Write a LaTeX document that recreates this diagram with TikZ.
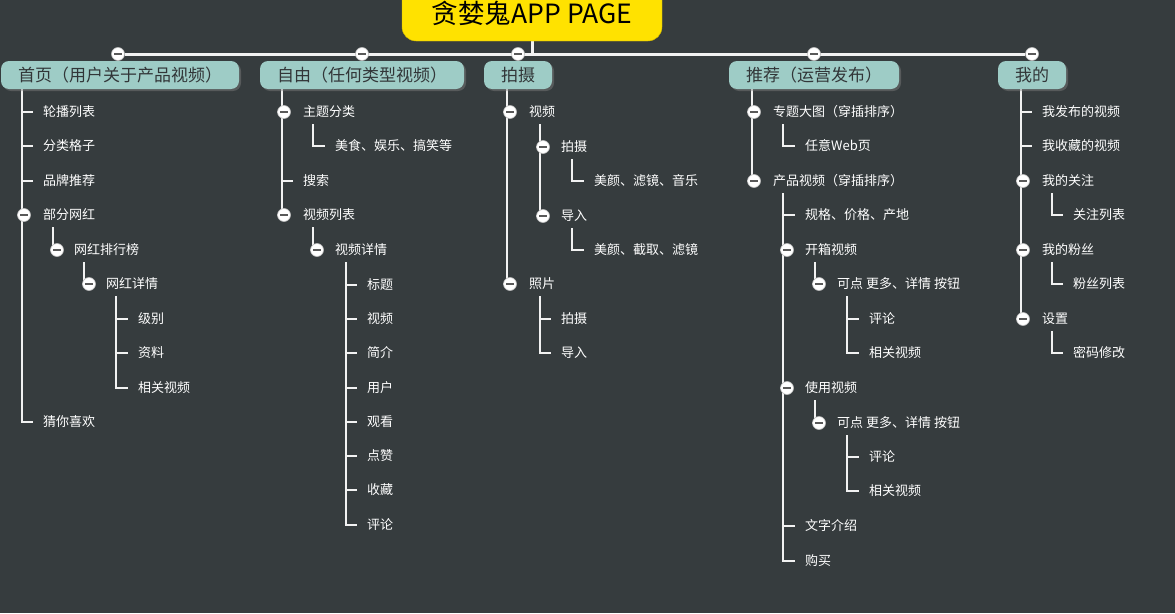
\documentclass[tikz,border=0pt]{standalone}
\usepackage{fontspec}
\setmainfont{Noto Sans CJK SC}
\usepackage{tikz}
\usetikzlibrary{positioning}
\usetikzlibrary{shadows}
\definecolor{bgc}{RGB}{54,60,62}
\definecolor{rootc}{RGB}{255,226,0}
\definecolor{tabc}{RGB}{158,204,198}
\definecolor{tabtext}{RGB}{50,54,56}
\definecolor{linec}{RGB}{242,242,242}
\pgfdeclarelayer{back}
\pgfdeclarelayer{lines}
\pgfsetlayers{back,lines,main}
\tikzset{
    root/.style={fill=rootc, draw=rootc!80!black, rounded corners=14pt, minimum width=260pt, minimum height=56pt, font=\fontsize{26.5}{29}\selectfont, text=black}, % 根节点
    tab/.style={fill=tabc, rounded corners=8pt, minimum height=28pt, inner xsep=17pt, inner ysep=0pt, text=tabtext, font=\fontsize{17}{19}\selectfont, drop shadow={opacity=0.45, shadow xshift=2pt, shadow yshift=-2pt}}, % 一级页面
    item/.style={anchor=west, inner sep=0pt, text=white, font=\fontsize{13}{15}\selectfont}, % 条目文字
    fold/.style={circle, fill=white, draw=gray!50, line width=0.6pt, minimum size=13pt, inner sep=0pt,
        path picture={\fill[gray!70!black] ([xshift=-4pt,yshift=-1.2pt]path picture bounding box.center) rectangle ([xshift=4pt,yshift=1.2pt]path picture bounding box.center);}}, % 折叠按钮
    link/.style={draw=linec, line width=1.8pt},
    mainlink/.style={draw=linec, line width=3pt}
}

\begin{document}
\begin{tikzpicture}[x=1pt, y=-1pt]

    \useasboundingbox (0,0) rectangle (1175,613);
    \begin{pgfonlayer}{back}
        \fill[bgc] (0,0) rectangle (1175,613);
    \end{pgfonlayer}

    \node[root] (root) at (532,13) {贪婪鬼APP PAGE};

    \node[tab] (tabA) at (120,75) {首页（用户关于产品视频）};
    \node[tab] (tabB) at (362,75) {自由（任何类型视频）};
    \node[tab] (tabC) at (518,75) {拍摄};
    \node[tab] (tabD) at (814,75) {推荐（运营发布）};
    \node[tab] (tabE) at (1032,75) {我的};

    \node[fold] (fA) at (118,54) {};
    \node[fold] (fB) at (362,54) {};
    \node[fold] (fC) at (518,54) {};
    \node[fold] (fD) at (814,54) {};
    \node[fold] (fE) at (1032,54) {};

    % 首页
    \node[item] (a1) at (43,112) {轮播列表};
    \node[item] (a2) at (43,146) {分类格子};
    \node[item] (a3) at (43,181) {品牌推荐};
    \node[item] (a4) at (43,215) {部分网红};
    \node[fold] (fa4) at (24,215) {};
    \node[item] (a41) at (74,250) {网红排行榜};
    \node[fold] (fa41) at (57,250) {};
    \node[item] (a411) at (106,284) {网红详情};
    \node[fold] (fa411) at (89,284) {};
    \node[item] (a4111) at (138,319) {级别};
    \node[item] (a4112) at (138,353) {资料};
    \node[item] (a4113) at (138,388) {相关视频};
    \node[item] (a5) at (43,422) {猜你喜欢};

    % 自由
    \node[item] (b1) at (303,112) {主题分类};
    \node[fold] (fb1) at (284,112) {};
    \node[item] (b11) at (335,146) {美食、娱乐、搞笑等};
    \node[item] (b2) at (303,181) {搜索};
    \node[item] (b3) at (303,215) {视频列表};
    \node[fold] (fb3) at (284,215) {};
    \node[item] (b31) at (335,250) {视频详情};
    \node[fold] (fb31) at (317,250) {};
    \node[item] (b311) at (367,285) {标题};
    \node[item] (b312) at (367,319) {视频};
    \node[item] (b313) at (367,353) {简介};
    \node[item] (b314) at (367,388) {用户};
    \node[item] (b315) at (367,422) {观看};
    \node[item] (b316) at (367,456) {点赞};
    \node[item] (b317) at (367,490) {收藏};
    \node[item] (b318) at (367,525) {评论};

    % 拍摄
    \node[item] (c1) at (529,112) {视频};
    \node[fold] (fc1) at (510,112) {};
    \node[item] (c11) at (561,147) {拍摄};
    \node[fold] (fc11) at (543,147) {};
    \node[item] (c111) at (594,181) {美颜、滤镜、音乐};
    \node[item] (c12) at (561,216) {导入};
    \node[fold] (fc12) at (543,216) {};
    \node[item] (c121) at (594,250) {美颜、截取、滤镜};
    \node[item] (c2) at (529,284) {照片};
    \node[fold] (fc2) at (510,284) {};
    \node[item] (c21) at (561,319) {拍摄};
    \node[item] (c22) at (561,353) {导入};

    % 推荐
    \node[item] (d1) at (773,112) {专题大图（穿插排序）};
    \node[fold] (fd1) at (754,112) {};
    \node[item] (d11) at (805,146) {任意Web页};
    \node[item] (d2) at (773,181) {产品视频（穿插排序）};
    \node[fold] (fd2) at (754,181) {};
    \node[item] (d21) at (805,215) {规格、价格、产地};
    \node[item] (d22) at (805,250) {开箱视频};
    \node[fold] (fd22) at (787,250) {};
    \node[item] (d221) at (837,284) {可点 更多、详情 按钮};
    \node[fold] (fd221) at (819,284) {};
    \node[item] (d2211) at (869,319) {评论};
    \node[item] (d2212) at (869,353) {相关视频};
    \node[item] (d23) at (805,388) {使用视频};
    \node[fold] (fd23) at (787,388) {};
    \node[item] (d231) at (837,423) {可点 更多、详情 按钮};
    \node[fold] (fd231) at (819,423) {};
    \node[item] (d2311) at (869,457) {评论};
    \node[item] (d2312) at (869,491) {相关视频};
    \node[item] (d24) at (805,526) {文字介绍};
    \node[item] (d25) at (805,561) {购买};

    % 我的
    \node[item] (e1) at (1042,112) {我发布的视频};
    \node[item] (e2) at (1042,146) {我收藏的视频};
    \node[item] (e3) at (1042,181) {我的关注};
    \node[fold] (fe3) at (1023,181) {};
    \node[item] (e31) at (1073,215) {关注列表};
    \node[item] (e4) at (1042,250) {我的粉丝};
    \node[fold] (fe4) at (1023,250) {};
    \node[item] (e41) at (1073,284) {粉丝列表};
    \node[item] (e5) at (1042,319) {设置};
    \node[fold] (fe5) at (1023,319) {};
    \node[item] (e51) at (1073,353) {密码修改};

    % 连线的起点
    \coordinate (tA) at (22,89);
    \coordinate (tB) at (282,89);
    \coordinate (tC) at (507,89);
    \coordinate (tD) at (752,89);
    \coordinate (tE) at (1021,89);
    \coordinate (ta4) at ([xshift=10pt,yshift=-12pt]a4.west);
    \coordinate (ta41) at ([xshift=10pt,yshift=-12pt]a41.west);
    \coordinate (ta411) at ([xshift=10pt,yshift=-12pt]a411.west);
    \coordinate (tb1) at ([xshift=10pt,yshift=-12pt]b1.west);
    \coordinate (tb3) at ([xshift=10pt,yshift=-12pt]b3.west);
    \coordinate (tb31) at ([xshift=11pt,yshift=-12pt]b31.west);
    \coordinate (tc1) at ([xshift=11pt,yshift=-12pt]c1.west);
    \coordinate (tc11) at ([xshift=11pt,yshift=-12pt]c11.west);
    \coordinate (tc12) at ([xshift=11pt,yshift=-12pt]c12.west);
    \coordinate (tc2) at ([xshift=11pt,yshift=-12pt]c2.west);
    \coordinate (td1) at ([xshift=10pt,yshift=-12pt]d1.west);
    \coordinate (td2) at ([xshift=10pt,yshift=-12pt]d2.west);
    \coordinate (td22) at ([xshift=10pt,yshift=-12pt]d22.west);
    \coordinate (td221) at ([xshift=10pt,yshift=-12pt]d221.west);
    \coordinate (td23) at ([xshift=10pt,yshift=-12pt]d23.west);
    \coordinate (td231) at ([xshift=10pt,yshift=-12pt]d231.west);
    \coordinate (te3) at ([xshift=10pt,yshift=-12pt]e3.west);
    \coordinate (te4) at ([xshift=10pt,yshift=-12pt]e4.west);
    \coordinate (te5) at ([xshift=10pt,yshift=-12pt]e5.west);

    \begin{pgfonlayer}{lines}
        \draw[mainlink] (root.south) -- (root.south |- fA);
        \draw[mainlink] (fA) -- (fE);

        \draw[link] (tA) |- ([xshift=-10pt]a1.west);
        \draw[link] (tA) |- ([xshift=-10pt]a2.west);
        \draw[link] (tA) |- ([xshift=-10pt]a3.west);
        \draw[link] (tA) |- (fa4);
        \draw[link] (tA) |- ([xshift=-10pt]a5.west);
        \draw[link] (ta4) |- (fa41);
        \draw[link] (ta41) |- (fa411);
        \draw[link] (ta411) |- ([xshift=-10pt]a4111.west);
        \draw[link] (ta411) |- ([xshift=-10pt]a4112.west);
        \draw[link] (ta411) |- ([xshift=-10pt]a4113.west);

        \draw[link] (tB) |- (fb1);
        \draw[link] (tB) |- ([xshift=-10pt]b2.west);
        \draw[link] (tB) |- (fb3);
        \draw[link] (tb1) |- ([xshift=-10pt]b11.west);
        \draw[link] (tb3) |- (fb31);
        \draw[link] (tb31) |- ([xshift=-10pt]b311.west);
        \draw[link] (tb31) |- ([xshift=-10pt]b312.west);
        \draw[link] (tb31) |- ([xshift=-10pt]b313.west);
        \draw[link] (tb31) |- ([xshift=-10pt]b314.west);
        \draw[link] (tb31) |- ([xshift=-10pt]b315.west);
        \draw[link] (tb31) |- ([xshift=-10pt]b316.west);
        \draw[link] (tb31) |- ([xshift=-10pt]b317.west);
        \draw[link] (tb31) |- ([xshift=-10pt]b318.west);

        \draw[link] (tC) |- (fc1);
        \draw[link] (tC) |- (fc2);
        \draw[link] (tc1) |- (fc11);
        \draw[link] (tc1) |- (fc12);
        \draw[link] (tc11) |- ([xshift=-10pt]c111.west);
        \draw[link] (tc12) |- ([xshift=-10pt]c121.west);
        \draw[link] (tc2) |- ([xshift=-10pt]c21.west);
        \draw[link] (tc2) |- ([xshift=-10pt]c22.west);

        \draw[link] (tD) |- (fd1);
        \draw[link] (tD) |- (fd2);
        \draw[link] (td1) |- ([xshift=-10pt]d11.west);
        \draw[link] (td2) |- ([xshift=-10pt]d21.west);
        \draw[link] (td2) |- (fd22);
        \draw[link] (td2) |- (fd23);
        \draw[link] (td2) |- ([xshift=-10pt]d24.west);
        \draw[link] (td2) |- ([xshift=-10pt]d25.west);
        \draw[link] (td22) |- (fd221);
        \draw[link] (td221) |- ([xshift=-10pt]d2211.west);
        \draw[link] (td221) |- ([xshift=-10pt]d2212.west);
        \draw[link] (td23) |- (fd231);
        \draw[link] (td231) |- ([xshift=-10pt]d2311.west);
        \draw[link] (td231) |- ([xshift=-10pt]d2312.west);

        \draw[link] (tE) |- ([xshift=-10pt]e1.west);
        \draw[link] (tE) |- ([xshift=-10pt]e2.west);
        \draw[link] (tE) |- (fe3);
        \draw[link] (tE) |- (fe4);
        \draw[link] (tE) |- (fe5);
        \draw[link] (te3) |- ([xshift=-10pt]e31.west);
        \draw[link] (te4) |- ([xshift=-10pt]e41.west);
        \draw[link] (te5) |- ([xshift=-10pt]e51.west);
    \end{pgfonlayer}

\end{tikzpicture}
\end{document}
